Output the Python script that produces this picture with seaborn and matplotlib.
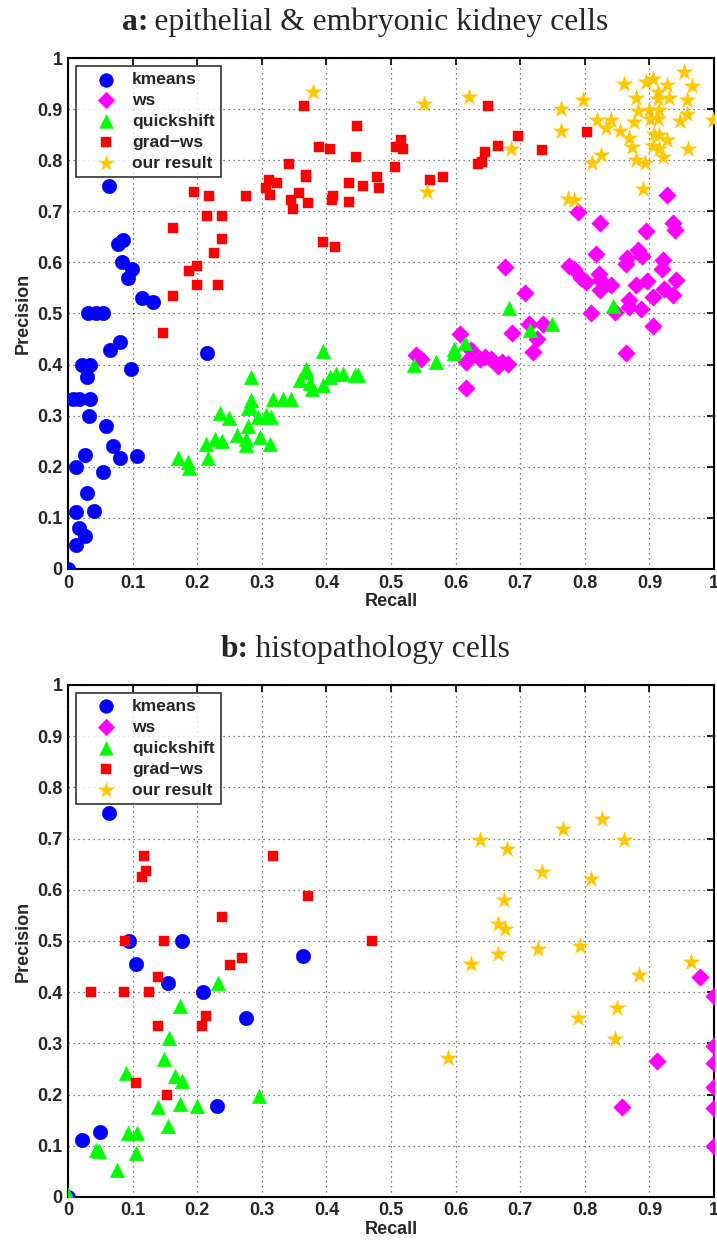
import numpy as np
import pandas as pd
import matplotlib
matplotlib.use("Agg")
import matplotlib.pyplot as plt
import matplotlib.transforms as mtransforms
import seaborn as sns
from matplotlib.ticker import FuncFormatter

# ---- panel a: epithelial & embryonic kidney cells ----
a_kmeans_r = [0.063, 0.078, 0.085, 0.084, 0.0995, 0.093, 0.115, 0.132, 0.031, 0.044, 0.054,
              0.065, 0.080, 0.215, 0.022, 0.034, 0.098, 0.029, 0.008, 0.017, 0.034, 0.032,
              0.059, 0.069, 0.081, 0.107, 0.027, 0.012, 0.054, 0.030, 0.041, 0.013, 0.017,
              0.027, 0.012, 0.0]
a_kmeans_p = [0.75, 0.636, 0.644, 0.60, 0.588, 0.57, 0.53, 0.522, 0.5, 0.5, 0.5,
              0.429, 0.444, 0.423, 0.40, 0.40, 0.392, 0.375, 0.333, 0.333, 0.333, 0.30,
              0.28, 0.24, 0.217, 0.222, 0.223, 0.20, 0.19, 0.148, 0.114, 0.111, 0.081,
              0.064, 0.047, 0.0]

a_ws_r = [0.928, 0.790, 0.824, 0.936, 0.939, 0.894, 0.817, 0.883, 0.889, 0.866, 0.864, 0.921,
          0.919, 0.677, 0.776, 0.784, 0.794, 0.802, 0.822, 0.824, 0.823, 0.841, 0.880, 0.896,
          0.941, 0.922, 0.937, 0.905, 0.868, 0.868, 0.887, 0.707, 0.810, 0.847, 0.905, 0.864,
          0.607, 0.624, 0.616, 0.616, 0.539, 0.546, 0.638, 0.646, 0.655, 0.666, 0.672, 0.681,
          0.688, 0.720, 0.726, 0.713, 0.736]
a_ws_p = [0.731, 0.699, 0.678, 0.677, 0.664, 0.662, 0.616, 0.624, 0.613, 0.608, 0.596, 0.605,
          0.587, 0.591, 0.593, 0.588, 0.570, 0.562, 0.577, 0.565, 0.545, 0.555, 0.555, 0.563,
          0.565, 0.548, 0.536, 0.533, 0.526, 0.513, 0.508, 0.540, 0.500, 0.503, 0.475, 0.422,
          0.459, 0.428, 0.405, 0.354, 0.418, 0.410, 0.410, 0.414, 0.410, 0.397, 0.405, 0.401,
          0.462, 0.425, 0.451, 0.479, 0.479]

a_qs_r = [0.683, 0.843, 0.749, 0.715, 0.598, 0.598, 0.615, 0.535, 0.570, 0.449,
          0.395, 0.369, 0.369, 0.359, 0.374, 0.377, 0.395, 0.405, 0.415, 0.426, 0.444,
          0.284, 0.318, 0.333, 0.346, 0.284, 0.281, 0.278, 0.294, 0.307, 0.315, 0.235,
          0.250, 0.278, 0.261, 0.276, 0.297, 0.312, 0.276, 0.227, 0.214, 0.238, 0.171,
          0.186, 0.188, 0.217]
a_qs_p = [0.51, 0.514, 0.479, 0.467, 0.431, 0.423, 0.442, 0.40, 0.405, 0.379,
          0.426, 0.392, 0.386, 0.369, 0.363, 0.353, 0.36, 0.376, 0.382, 0.382, 0.38,
          0.375, 0.332, 0.333, 0.333, 0.331, 0.318, 0.315, 0.298, 0.301, 0.298, 0.305,
          0.296, 0.28, 0.262, 0.255, 0.258, 0.244, 0.243, 0.255, 0.245, 0.25, 0.218,
          0.21, 0.197, 0.218]

a_gw_r = [0.365, 0.195, 0.218, 0.275, 0.163, 0.215, 0.239, 0.239, 0.226, 0.188, 0.20, 0.20,
          0.232, 0.163, 0.147, 0.342, 0.311, 0.323, 0.307, 0.313, 0.346, 0.349, 0.357, 0.369,
          0.368, 0.372, 0.389, 0.406, 0.411, 0.409, 0.395, 0.413, 0.435, 0.435, 0.446, 0.448,
          0.650, 0.515, 0.508, 0.519, 0.506, 0.478, 0.457, 0.481, 0.561, 0.581, 0.645, 0.641,
          0.634, 0.666, 0.697, 0.733, 0.803]
a_gw_p = [0.907, 0.737, 0.730, 0.730, 0.667, 0.691, 0.691, 0.645, 0.618, 0.584, 0.593, 0.555,
          0.555, 0.535, 0.462, 0.792, 0.761, 0.755, 0.746, 0.732, 0.722, 0.705, 0.736, 0.771,
          0.767, 0.717, 0.825, 0.822, 0.730, 0.722, 0.640, 0.630, 0.755, 0.718, 0.807, 0.867,
          0.907, 0.840, 0.825, 0.822, 0.786, 0.768, 0.750, 0.746, 0.761, 0.767, 0.817, 0.797,
          0.793, 0.827, 0.848, 0.820, 0.855]

a_our_r = [0.380, 0.551, 0.556, 0.620, 0.686, 0.763, 0.763, 0.797, 0.774, 0.784, 0.811, 0.825,
           0.819, 0.840, 0.833, 0.855, 0.861, 0.880, 0.876, 0.869, 0.873, 0.880, 0.893, 0.890,
           0.883, 0.895, 0.905, 0.913, 0.927, 0.913, 0.930, 0.900, 0.915, 0.901, 0.913, 0.907,
           0.915, 0.928, 0.905, 0.915, 0.921, 0.954, 0.966, 0.958, 0.958, 0.948, 0.959, 0.999]
a_our_p = [0.934, 0.910, 0.738, 0.924, 0.822, 0.901, 0.857, 0.918, 0.725, 0.723, 0.794, 0.810,
           0.879, 0.878, 0.863, 0.857, 0.950, 0.922, 0.875, 0.844, 0.825, 0.801, 0.794, 0.744,
           0.896, 0.954, 0.958, 0.934, 0.947, 0.919, 0.922, 0.899, 0.899, 0.881, 0.881, 0.852,
           0.849, 0.839, 0.827, 0.822, 0.806, 0.973, 0.945, 0.918, 0.890, 0.876, 0.822, 0.878]

# ---- panel b: histopathology cells ----
b_kmeans_r = [0.064, 0.095, 0.177, 0.364, 0.106, 0.155, 0.209, 0.276, 0.231, 0.049, 0.022, 0.0]
b_kmeans_p = [0.749, 0.50, 0.50, 0.471, 0.455, 0.417, 0.401, 0.349, 0.177, 0.126, 0.112, 0.0]

b_ws_r = [0.978, 1.0, 1.0, 1.0, 1.0, 1.0, 1.0, 0.912, 0.858]
b_ws_p = [0.429, 0.393, 0.294, 0.262, 0.215, 0.173, 0.100, 0.265, 0.176]

b_qs_r = [0.232, 0.173, 0.157, 0.148, 0.090, 0.166, 0.176, 0.296, 0.173, 0.200, 0.140, 0.155,
          0.093, 0.107, 0.105, 0.043, 0.048, 0.076, 0.0]
b_qs_p = [0.417, 0.373, 0.311, 0.27, 0.242, 0.236, 0.226, 0.197, 0.182, 0.177, 0.175, 0.138,
          0.124, 0.124, 0.085, 0.092, 0.089, 0.052, 0.003]

b_gw_r = [0.118, 0.121, 0.115, 0.318, 0.371, 0.239, 0.089, 0.148, 0.470, 0.27, 0.251, 0.140,
          0.035, 0.086, 0.126, 0.214, 0.208, 0.140, 0.105, 0.154]
b_gw_p = [0.666, 0.636, 0.625, 0.666, 0.588, 0.546, 0.50, 0.50, 0.50, 0.467, 0.454, 0.430,
          0.40, 0.40, 0.40, 0.353, 0.333, 0.333, 0.223, 0.20]

b_our_r = [0.638, 0.680, 0.766, 0.827, 0.860, 0.733, 0.809, 0.675, 0.666, 0.677, 0.727, 0.792,
           0.666, 0.624, 0.964, 0.884, 0.850, 0.790, 0.846, 0.588]
b_our_p = [0.698, 0.680, 0.718, 0.739, 0.698, 0.635, 0.621, 0.581, 0.534, 0.523, 0.485, 0.490,
           0.474, 0.455, 0.458, 0.433, 0.370, 0.350, 0.308, 0.272]

methods = ["kmeans", "ws", "quickshift", "grad\u2212ws", "our result"]
colors = ["#0000FF", "#FF00FF", "#00FF00", "#FF0000", "#FFC800"]
markers = ["o", "D", "^", "s", "*"]
sizes = [110, 80, 110, 60, 150]

panels = [
    ("a:", "\u2009epithelial & embryonic kidney cells",
     [(a_kmeans_r, a_kmeans_p), (a_ws_r, a_ws_p), (a_qs_r, a_qs_p),
      (a_gw_r, a_gw_p), (a_our_r, a_our_p)]),
    ("b:", "\u2009histopathology cells",
     [(b_kmeans_r, b_kmeans_p), (b_ws_r, b_ws_p), (b_qs_r, b_qs_p),
      (b_gw_r, b_gw_p), (b_our_r, b_our_p)]),
]

sns.set_theme(style="white")
plt.rcParams["font.family"] = ["Liberation Sans", "DejaVu Sans"]
serif = ["Liberation Serif", "DejaVu Serif"]

fig = plt.figure(figsize=(7.17, 12.45), dpi=100)
rects = [[0.0948, 0.543, 0.901, 0.4104], [0.0948, 0.0386, 0.901, 0.4112]]
title_parts = []

for (tag, title, series), rect in zip(panels, rects):
    ax = fig.add_axes(rect)
    for (r, p), name, c, m, s in zip(series, methods, colors, markers, sizes):
        df = pd.DataFrame({"Recall": r, "Precision": p})
        sns.scatterplot(data=df, x="Recall", y="Precision", ax=ax, color=c, marker=m,
                        s=s, linewidth=0.3, edgecolor=c, label=name, zorder=3)
    ax.set_xlim(0, 1)
    ax.set_ylim(0, 1)
    ticks = np.round(np.arange(0, 1.01, 0.1), 1)
    ax.set_xticks(ticks)
    ax.set_yticks(ticks)
    fmt = FuncFormatter(lambda v, pos: "%g" % v)
    ax.xaxis.set_major_formatter(fmt)
    ax.yaxis.set_major_formatter(fmt)
    ax.tick_params(direction="in", top=True, right=True, length=5, width=1.2,
                   labelsize=13, pad=4, color="black")
    for lab in ax.get_xticklabels() + ax.get_yticklabels():
        lab.set_fontweight("bold")
    ax.grid(True, linestyle=(0, (1, 3)), color="#555555", linewidth=0.9)
    for sp in ax.spines.values():
        sp.set_color("black")
        sp.set_linewidth(1.5)
    ax.set_xlabel("Recall", fontsize=13, fontweight="bold", labelpad=1)
    ax.set_ylabel("Precision", fontsize=13, fontweight="bold", labelpad=4)

    # title: bold tag followed by regular text, centred together
    t1 = ax.text(0.5, 1.0, tag, transform=ax.transAxes, fontsize=22.8, fontweight="bold",
                 family=serif, ha="left", va="baseline")
    t2 = ax.text(0.5, 1.0, title, transform=ax.transAxes, fontsize=22.8,
                 family=serif, ha="left", va="baseline")
    title_parts.append((ax, t1, t2))

    leg = ax.legend(loc="upper left", frameon=True, fancybox=False, fontsize=12.5,
                    borderpad=0.35, labelspacing=0.33, handletextpad=0.15,
                    borderaxespad=0.45, markerscale=0.95, edgecolor="black",
                    handlelength=2.75)
    leg.get_frame().set_linewidth(1.2)
    for t in leg.get_texts():
        t.set_fontweight("bold")

fig.canvas.draw()
renderer = fig.canvas.get_renderer()
for ax, t1, t2 in title_parts:
    w1 = t1.get_window_extent(renderer).width
    w2 = t2.get_window_extent(renderer).width
    start = -(w1 + w2) / 2.0 - 26
    t1.set_transform(mtransforms.offset_copy(ax.transAxes, fig=fig, x=start, y=28,
                                             units="dots"))
    t2.set_transform(mtransforms.offset_copy(ax.transAxes, fig=fig, x=start + w1, y=28,
                                             units="dots"))

fig.savefig("out.png", dpi=100)
